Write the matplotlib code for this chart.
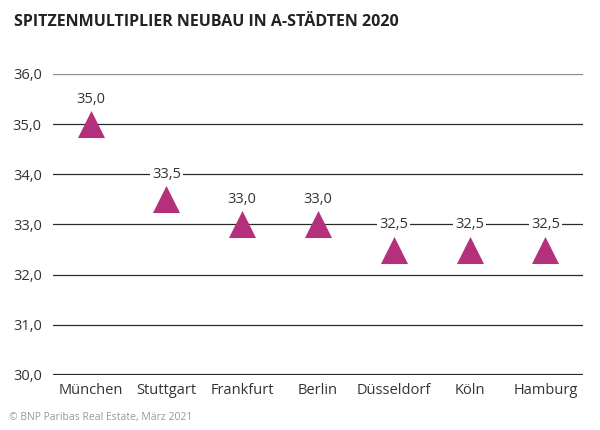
import matplotlib
matplotlib.use('Agg')
import matplotlib.pyplot as plt

cities = ['München', 'Stuttgart', 'Frankfurt', 'Berlin', 'Düsseldorf', 'Köln', 'Hamburg']
multiplier = [35.0, 33.5, 33.0, 33.0, 32.5, 32.5, 32.5]
yticks = [30, 31, 32, 33, 34, 35, 36]

plt.rcParams['font.family'] = ['Open Sans', 'DejaVu Sans']
col = '#b5307a'

fig = plt.figure(figsize=(6, 4.3), dpi=100)
ax = fig.add_axes([0.088, 0.128, 0.884, 0.7])
x = range(len(cities))

for v in yticks:
    c = '#8a8a8a' if v == 36 else '#2a2a2a'
    lw = 1.6 if v == 30 else 0.9
    ax.axhline(v, color=c, lw=lw, zorder=1)

ax.scatter(x, multiplier, marker='^', s=380, color=col, zorder=3, linewidths=0)
for i, v in zip(x, multiplier):
    ax.text(i, v + 0.5, ('%.1f' % v).replace('.', ','), ha='center', va='center',
            fontsize=10.5, color='#333333', zorder=4,
            bbox=dict(facecolor='white', edgecolor='none', pad=1.5))

ax.set_xlim(-0.5, len(cities) - 0.5)
ax.set_ylim(30, 36)
ax.set_yticks(yticks)
ax.set_yticklabels([('%.1f' % v).replace('.', ',') for v in yticks], fontsize=10.5, color='#333333')
ax.set_xticks(list(x))
ax.set_xticklabels(cities, fontsize=10.5, color='#333333')
ax.tick_params(length=0, pad=8)
ax.tick_params(axis='x', pad=6)
for s in ax.spines.values():
    s.set_visible(False)

fig.text(0.023, 0.948, 'SPITZENMULTIPLIER NEUBAU IN A-STÄDTEN 2020', fontsize=11.5,
         fontweight='bold', color='#222222', va='center')
fig.text(0.015, 0.028, '© BNP Paribas Real Estate, März 2021', fontsize=7.5,
         color='#999999', va='center')

fig.savefig('out.png', dpi=100)
